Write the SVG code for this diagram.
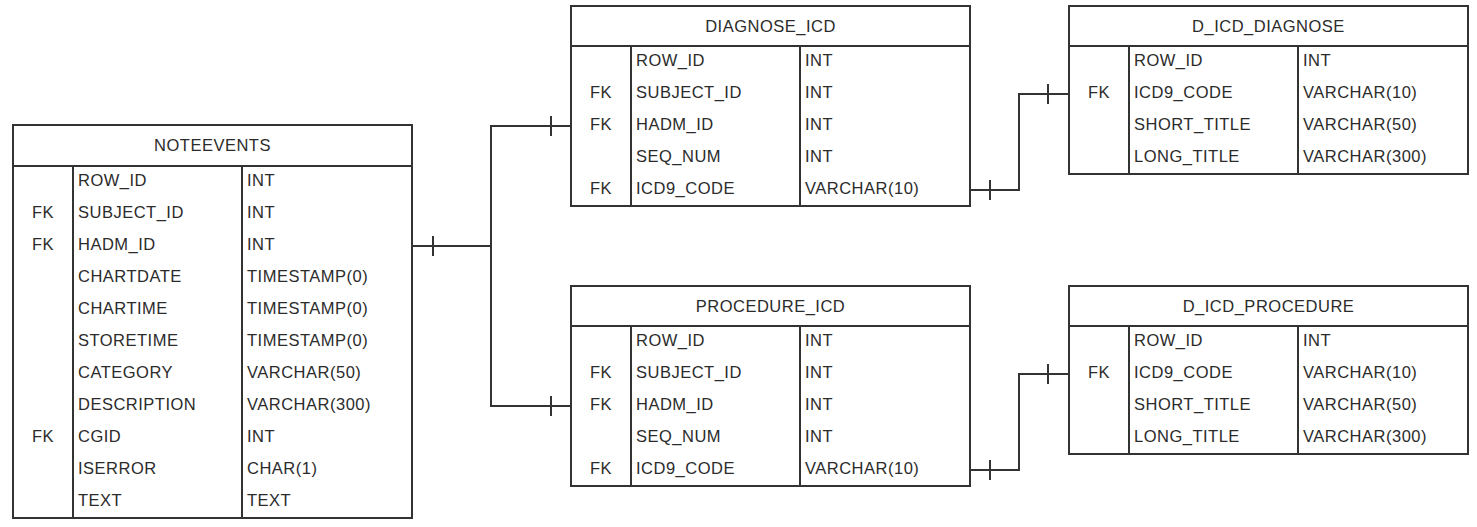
<svg xmlns="http://www.w3.org/2000/svg" width="1477" height="527" viewBox="0 0 1477 527">
<style>
.box{fill:#fff;stroke:#333;stroke-width:2}
.ln{stroke:#333;stroke-width:2;fill:none}
.t{font-family:"Liberation Sans",Arial,sans-serif;font-size:16.5px;letter-spacing:0.5px;fill:#2b2b2b}
.c{text-anchor:middle}
</style>
<rect width="1477" height="527" fill="#fff"/>
<g id="connectors" class="ln">
<path d="M412,246 H491 V126 H571"/>
<path d="M491,246 V406 H571"/>
<path d="M433,236 V256 M551,116 V136 M551,396 V416"/>
<path d="M970,190 H1019 V94 H1069 M990,180 V200 M1048,84 V104"/>
<path d="M970,470 H1019 V374 H1069 M990,460 V480 M1048,364 V384"/>
</g>
<g id="noteevents">
<rect class="box" x="13" y="125" width="399" height="393"/>
<path class="ln" d="M13,166 H412 M73,166 V518 M242,166 V518"/>
<text class="t c" x="212.5" y="151">NOTEEVENTS</text>
<g class="t">
<text x="78" y="186">ROW_ID</text><text x="247" y="186">INT</text>
<text x="78" y="218">SUBJECT_ID</text><text x="247" y="218">INT</text>
<text x="78" y="250">HADM_ID</text><text x="247" y="250">INT</text>
<text x="78" y="282">CHARTDATE</text><text x="247" y="282">TIMESTAMP(0)</text>
<text x="78" y="314">CHARTIME</text><text x="247" y="314">TIMESTAMP(0)</text>
<text x="78" y="346">STORETIME</text><text x="247" y="346">TIMESTAMP(0)</text>
<text x="78" y="378">CATEGORY</text><text x="247" y="378">VARCHAR(50)</text>
<text x="78" y="410">DESCRIPTION</text><text x="247" y="410">VARCHAR(300)</text>
<text x="78" y="442">CGID</text><text x="247" y="442">INT</text>
<text x="78" y="474">ISERROR</text><text x="247" y="474">CHAR(1)</text>
<text x="78" y="506">TEXT</text><text x="247" y="506">TEXT</text>
</g>
<g class="t c">
<text x="43" y="218">FK</text><text x="43" y="250">FK</text><text x="43" y="442">FK</text>
</g>
</g>
<g id="diagnose_icd">
<rect class="box" x="571" y="6" width="399" height="200"/>
<path class="ln" d="M571,46 H970 M631,46 V206 M800,46 V206"/>
<text class="t c" x="770.5" y="32">DIAGNOSE_ICD</text>
<g class="t">
<text x="636" y="66">ROW_ID</text><text x="805" y="66">INT</text>
<text x="636" y="98">SUBJECT_ID</text><text x="805" y="98">INT</text>
<text x="636" y="130">HADM_ID</text><text x="805" y="130">INT</text>
<text x="636" y="162">SEQ_NUM</text><text x="805" y="162">INT</text>
<text x="636" y="194">ICD9_CODE</text><text x="805" y="194">VARCHAR(10)</text>
</g>
<g class="t c">
<text x="601" y="98">FK</text><text x="601" y="130">FK</text><text x="601" y="194">FK</text>
</g>
</g>
<g id="procedure_icd">
<rect class="box" x="571" y="286" width="399" height="200"/>
<path class="ln" d="M571,326 H970 M631,326 V486 M800,326 V486"/>
<text class="t c" x="770.5" y="312">PROCEDURE_ICD</text>
<g class="t">
<text x="636" y="346">ROW_ID</text><text x="805" y="346">INT</text>
<text x="636" y="378">SUBJECT_ID</text><text x="805" y="378">INT</text>
<text x="636" y="410">HADM_ID</text><text x="805" y="410">INT</text>
<text x="636" y="442">SEQ_NUM</text><text x="805" y="442">INT</text>
<text x="636" y="474">ICD9_CODE</text><text x="805" y="474">VARCHAR(10)</text>
</g>
<g class="t c">
<text x="601" y="378">FK</text><text x="601" y="410">FK</text><text x="601" y="474">FK</text>
</g>
</g>
<g id="d_icd_diagnose">
<rect class="box" x="1069" y="6" width="399" height="168"/>
<path class="ln" d="M1069,46 H1468 M1129,46 V174 M1298,46 V174"/>
<text class="t c" x="1268.5" y="32">D_ICD_DIAGNOSE</text>
<g class="t">
<text x="1134" y="66">ROW_ID</text><text x="1303" y="66">INT</text>
<text x="1134" y="98">ICD9_CODE</text><text x="1303" y="98">VARCHAR(10)</text>
<text x="1134" y="130">SHORT_TITLE</text><text x="1303" y="130">VARCHAR(50)</text>
<text x="1134" y="162">LONG_TITLE</text><text x="1303" y="162">VARCHAR(300)</text>
</g>
<text class="t c" x="1099" y="98">FK</text>
</g>
<g id="d_icd_procedure">
<rect class="box" x="1069" y="286" width="399" height="168"/>
<path class="ln" d="M1069,326 H1468 M1129,326 V454 M1298,326 V454"/>
<text class="t c" x="1268.5" y="312">D_ICD_PROCEDURE</text>
<g class="t">
<text x="1134" y="346">ROW_ID</text><text x="1303" y="346">INT</text>
<text x="1134" y="378">ICD9_CODE</text><text x="1303" y="378">VARCHAR(10)</text>
<text x="1134" y="410">SHORT_TITLE</text><text x="1303" y="410">VARCHAR(50)</text>
<text x="1134" y="442">LONG_TITLE</text><text x="1303" y="442">VARCHAR(300)</text>
</g>
<text class="t c" x="1099" y="378">FK</text>
</g>
</svg>
